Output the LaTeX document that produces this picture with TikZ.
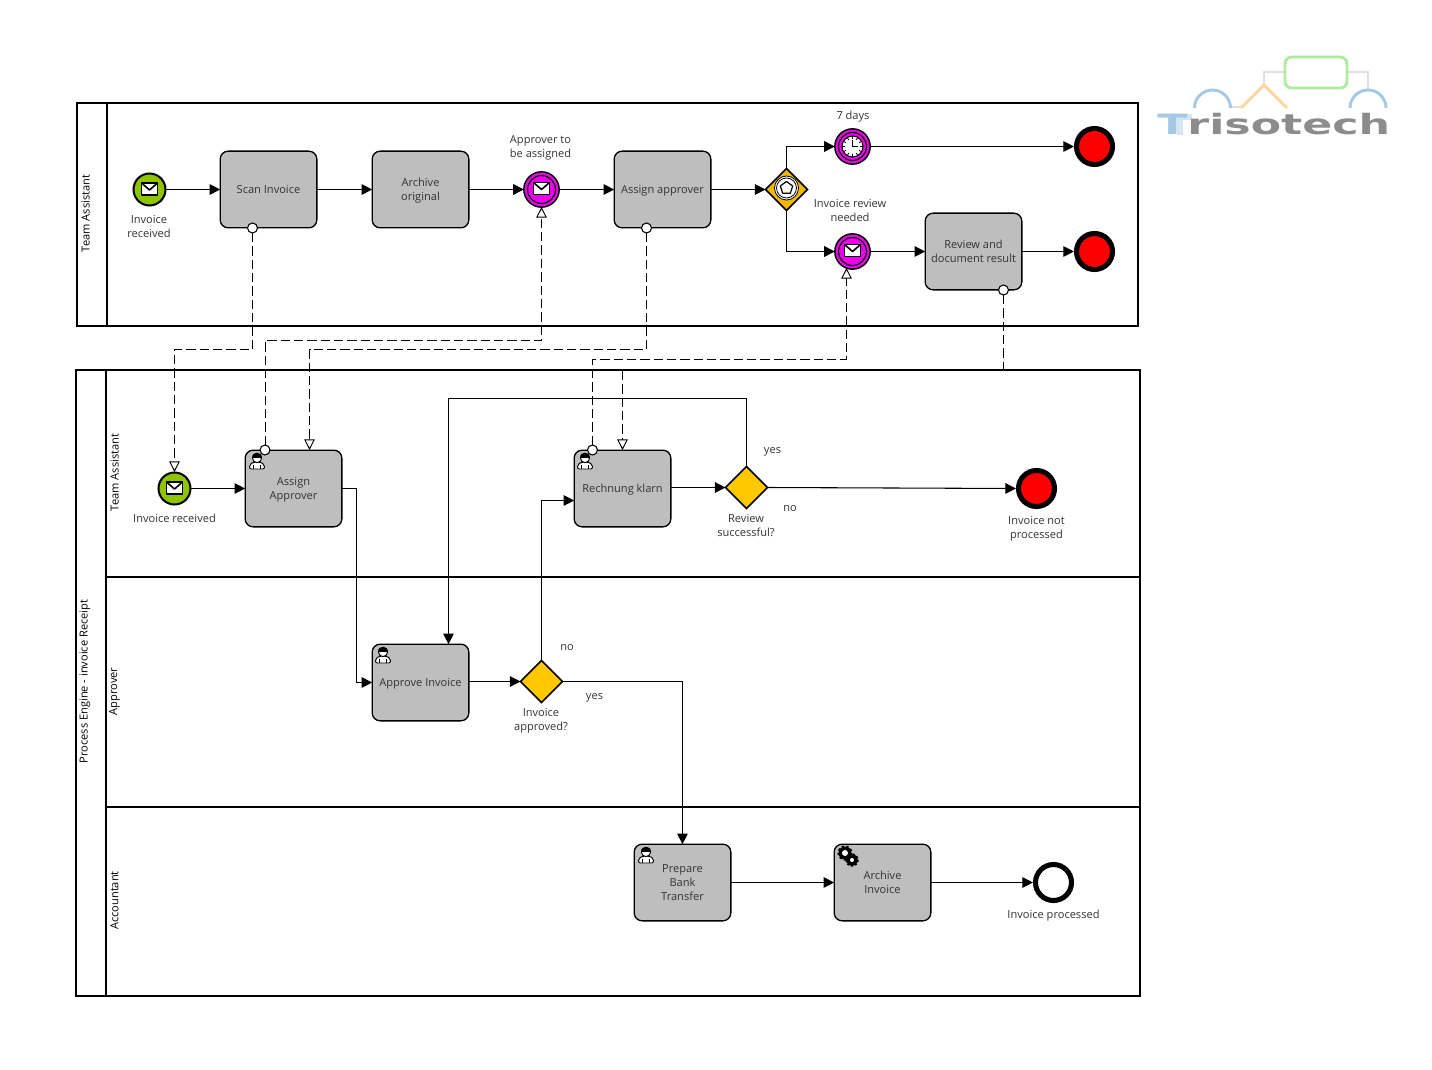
\documentclass[tikz,border=0pt]{standalone}
\usepackage{fontspec}
\setmainfont{Open Sans}
\usetikzlibrary{arrows.meta,shapes.geometric}
\definecolor{taskgray}{HTML}{BEBEBE}
\definecolor{startgreen}{HTML}{8FC400}
\definecolor{catchpink}{HTML}{EE00EE}
\definecolor{endred}{HTML}{FF0000}
\definecolor{gwyellow}{HTML}{FFC800}
\definecolor{evgw}{HTML}{F0B800}
\definecolor{txt}{HTML}{333333}
\definecolor{logoblue}{HTML}{A5C8E4}
\definecolor{logolight}{HTML}{D5E6F2}
\definecolor{logogreen}{HTML}{ADEBA0}
\definecolor{logoorange}{HTML}{FFD5A0}
\definecolor{logogray}{HTML}{E0E0E0}
\definecolor{logotxt}{HTML}{8C8C8C}
\newcommand\tl[1]{\raisebox{-.75pt}[\height][\depth]{\begin{tabular}{@{}c@{}}#1\end{tabular}}}
\tikzset{
  lbl/.style={align=center,font=\fontsize{8.3}{10.5}\selectfont,text=txt,inner sep=0pt},
  lanelbl/.style={font=\fontsize{8.3}{10}\selectfont,text=black,inner sep=0pt,rotate=90},
  frame/.style={draw=black,line width=1.5pt},
  task/.style={draw=black,line width=1pt,fill=taskgray,rounded corners=6pt,minimum width=72.5pt,minimum height=57.5pt,inner sep=0pt,outer sep=0pt,font=\fontsize{8.3}{10.5}\selectfont,text=txt},
  startev/.style={circle,draw=black,line width=1.5pt,fill=startgreen,minimum size=24pt,inner sep=0pt,outer sep=0pt},
  catchev/.style={circle,draw=black,line width=1.1pt,fill=catchpink,minimum size=26.5pt,inner sep=0pt,outer sep=0pt},
  endev/.style={circle,draw=black,line width=3.8pt,fill=endred,minimum size=27pt,inner sep=0pt,outer sep=1.9pt},
  endnone/.style={endev,fill=white},
  gw/.style={diamond,draw=black,line width=1.1pt,fill=gwyellow,minimum width=31.5pt,minimum height=31.5pt,inner sep=0pt,outer sep=0pt},
  evgate/.style={gw,fill=evgw},
  flow/.style={draw=black,line width=.8pt,-{Triangle[length=8pt,width=8pt]}},
  msg/.style={draw=black,line width=.7pt,dash pattern=on 7pt off 3pt,-{Triangle[open,fill=white,length=8pt,width=8pt,line width=.7pt]}},
  msgend/.style={draw=black,line width=.7pt,dash pattern=on 7pt off 3pt},
  dot/.style={circle,draw=black,line width=.8pt,fill=white,minimum size=7.5pt,inner sep=0pt,outer sep=0pt},
  pics/envel/.style={code={
    \draw[black,line width=1.2pt,fill=white,line join=round] (-8,-6) rectangle (8,6);
    \draw[black,line width=1.2pt,line join=round] (-8,-6) -- (0,1) -- (8,-6);
  }},
  pics/ring/.style={code={
    \draw[black,line width=.9pt] (0,0) circle (14);
  }},
  pics/clock/.style={code={
    \draw[black,line width=.9pt] (0,0) circle (14);
    \draw[black,line width=.8pt,fill=white] (0,0) circle (10.5);
    \foreach \a in {0,30,...,330}{\draw[black,line width=.6pt] (\a:7.5) -- (\a:10.5);}
    \draw[black,line width=.7pt] (0,-6.5) -- (0,0) -- (5,0);
  }},
  pics/penta/.style={code={
    \draw[black,line width=.6pt,fill=white] (0,0) circle (12);
    \draw[black,line width=.6pt] (0,0) circle (10);
    \draw[black,line width=.9pt,fill=white,line join=round] (0,-6.5) -- (6.2,-2) -- (3.8,5.3) -- (-3.8,5.3) -- (-6.2,-2) -- cycle;
  }},
  pics/userfig/.style={code={
    \draw[black,line width=.7pt,fill=white,rounded corners=1.5pt] (-7.5,8) -- (-7.5,3.5) -- (-3,1) -- (3,1) -- (7.5,3.5) -- (7.5,8) -- cycle;
    \draw[black,line width=.7pt,fill=white] (0,-3) circle (4.6);
    \fill[black] (-5,-3.2) .. controls (-5,-9.6) and (5,-9.6) .. (5,-3.2) -- cycle;
    \draw[black,line width=.6pt] (-3.5,4) -- (-3.5,8) (3.5,4) -- (3.5,8);
  }},
  pics/gearfig/.style={code={
    \draw[black,line width=1.6pt,dash pattern=on 1.7pt off 1.7pt] (-3,-3) circle (6.5);
    \fill[black] (-3,-3) circle (6.5);
    \fill[white] (-3,-3) circle (3);
    \draw[black,line width=1.4pt,dash pattern=on 1.5pt off 1.5pt] (4,4) circle (5.8);
    \fill[black] (4,4) circle (5.8);
    \fill[white] (4,4) circle (2);
  }},
}
\begin{document}
\begin{tikzpicture}[x=.75pt,y=-.75pt]
\useasboundingbox (0,0) rectangle (1432,1070);
% pools
\draw[frame] (76.5,103.5) rectangle (1137.5,325.5);
\draw[frame] (106.5,103.5) -- (106.5,325.5);
\draw[frame] (75.5,369.5) rectangle (1139.5,995.5);
\draw[frame] (105.5,369.5) -- (105.5,995.5);
\draw[frame] (105.5,576.5) -- (1139.5,576.5);
\draw[frame] (105.5,806.5) -- (1139.5,806.5);
\node[lanelbl] (lblpoolA) at (85.5,213.5) {Team Assistant};
\node[lanelbl] (lblpoolB) at (85,681.5) {Process Engine - invoice Receipt};
\node[lanelbl] (lbllaneA) at (114.5,472.5) {Team Assistant};
\node[lanelbl] (lbllaneB) at (114.5,691.5) {Approver};
\node[lanelbl] (lbllaneC) at (114.5,900.5) {Accountant};
% top pool
\node[startev] (startA) at (149.5,189.5) {};
\node[task] (scan) at (268.5,189.5) {\tl{Scan Invoice}};
\node[task] (archive) at (420.5,189.5) {\tl{Archive\\original}};
\node[catchev] (approverev) at (541.5,189.5) {};
\node[task] (assign) at (662.5,189.5) {\tl{Assign approver}};
\node[evgate] (evgw) at (786.5,189.5) {};
\node[catchev] (timer) at (852.5,146.5) {};
\node[catchev] (reviewev) at (852.5,251.5) {};
\node[task] (review) at (973.5,251.5) {\tl{Review and\\document result}};
\node[endev] (endA) at (1094.5,146.5) {};
\node[endev] (endB) at (1094.5,251.5) {};
% lower pool
\node[startev] (startB) at (174.5,488.5) {};
\node[task] (assignA) at (293.5,488.5) {\tl{Assign\\Approver}};
\node[task] (rechnung) at (622.5,488.5) {\tl{Rechnung klarn}};
\node[gw] (gwR) at (746.5,487.5) {};
\node[endev] (endC) at (1036.5,488.5) {};
\node[task] (approve) at (420.5,682.5) {\tl{Approve Invoice}};
\node[gw] (gwA) at (541.5,681.5) {};
\node[task] (prepare) at (682.5,882.5) {\tl{Prepare\\Bank\\Transfer}};
\node[task] (archinv) at (882.5,882.5) {\tl{Archive\\Invoice}};
\node[endnone] (endD) at (1053.5,882.5) {};
% event icons
\pic at (149.5,189) {envel};
\pic at (174.5,488) {envel};
\pic at (541.5,189.5) {ring};
\pic at (541.5,188.5) {envel};
\pic at (852.5,251.5) {ring};
\pic at (852.5,250.5) {envel};
\pic at (852.5,146.5) {clock};
\pic at (786.5,188) {penta};
\pic at (257,461) {userfig};
\pic at (585,461) {userfig};
\pic at (383,655) {userfig};
\pic at (646,855) {userfig};
\pic at (848,856) {gearfig};
% labels
\node[lbl] (l1) at (149,226) {Invoice\\received};
\node[lbl] (l2) at (540.5,148) {Approver to\\be assigned};
\node[lbl] (l3) at (853,117) {7 days};
\node[lbl] (l4) at (850,210) {Invoice review\\needed};
\node[lbl] (l5) at (174.5,518) {Invoice received};
\node[lbl] (l6) at (746,526) {Review\\successful?};
\node[lbl] (l7) at (1036.5,529) {Invoice not\\processed};
\node[lbl] (l8) at (541,721) {Invoice\\approved?};
\node[lbl] (l9) at (1053.5,916) {Invoice processed};
\node[lbl] (l10) at (772.5,451.5) {yes};
\node[lbl] (l11) at (790,509) {no};
\node[lbl] (l12) at (567,648) {no};
\node[lbl] (l13) at (594.5,697.5) {yes};
% sequence flows
\draw[flow] (startA) -- (scan);
\draw[flow] (scan) -- (archive);
\draw[flow] (archive) -- (approverev);
\draw[flow] (approverev) -- (assign);
\draw[flow] (assign) -- (evgw.west);
\draw[flow] (evgw.north) |- (timer.west);
\draw[flow] (evgw.south) |- (reviewev.west);
\draw[flow] (timer) -- (endA);
\draw[flow] (reviewev) -- (review);
\draw[flow] (review) -- (endB);
\draw[flow] (startB) -- (assignA);
\draw[flow] (assignA.east) -- ++(15,0) |- (approve.west);
\draw[flow] (approve.east |- gwA.west) -- (gwA.west);
\draw[flow] (gwA.north) |- ([yshift=-9pt]rechnung.west);
\draw[flow] (rechnung.east |- gwR.west) -- (gwR.west);
\draw[flow] (gwR.east) -- (endC.west);
\coordinate (loop) at (448.5,398.5);
\draw[flow] (gwR.north) |- (loop) -- (loop |- approve.north);
\draw[flow] (gwA.east) -| (prepare.north);
\draw[flow] (prepare) -- (archinv);
\draw[flow] (archinv) -- (endD);
% message flow sources
\node[dot] (dScan) at (252.5,228) {};
\node[dot] (dAssign) at (646.5,228) {};
\node[dot] (dReview) at (1003.5,290) {};
\node[dot] (dAssignA) at (265,450) {};
\node[dot] (dRech) at (592.5,450) {};
\coordinate (tStartB) at (174.5,472);
\coordinate (tAppr) at (541.5,207);
\coordinate (tAssignA) at (309.5,450);
\coordinate (tReview) at (846.5,268);
\coordinate (tRech) at (622.5,450);
\coordinate (m1) at (0,349.5);
\coordinate (m2) at (0,340.5);
\coordinate (m3) at (0,359.5);
\coordinate (edgeR) at (1003.5,369);
\coordinate (edgeT) at (622.5,371);
\draw[msg] (dScan) -- (dScan |- m1) -- (tStartB |- m1) -- (tStartB);
\draw[msg] (dAssignA) -- (dAssignA |- m2) -- (tAppr |- m2) -- (tAppr);
\draw[msg] (dAssign) -- (dAssign |- m1) -- (tAssignA |- m1) -- (tAssignA);
\draw[msg] (dRech) -- (dRech |- m3) -- (tReview |- m3) -- (tReview);
\draw[msgend] (dReview) -- (edgeR);
\draw[msg] (edgeT) -- (tRech);
% logo
\draw[logogray,line width=2.2pt] (1264,85) -- (1264,72) -- (1285,72);
\draw[logogray,line width=2.2pt] (1347,72) -- (1368,72) -- (1368,90);
\draw[logogray,line width=2.2pt] (1231,107) -- (1243,107);
\draw[logogreen,line width=2.2pt,rounded corners=5pt] (1285,57) rectangle (1347,88);
\draw[logoorange,line width=2.2pt] (1241,108) -- (1264,85) -- (1287,108);
\draw[logoblue,line width=2.2pt] (1194.5,108) arc (180:360:18);
\draw[logoblue,line width=2.2pt] (1350,108) arc (180:360:18);
\fill[logolight] (1178,114) rectangle (1192,120);
\fill[logolight] (1177,114) rectangle (1183,135);
\node[inner sep=0pt,anchor=west] (logotext) at (1157,124) {\scalebox{1.58}[1]{\fontspec{DejaVu Sans Bold}\fontsize{21}{21}\selectfont\textcolor{logoblue}{T}\textcolor{logotxt}{risotech}}};
\end{tikzpicture}
\end{document}
